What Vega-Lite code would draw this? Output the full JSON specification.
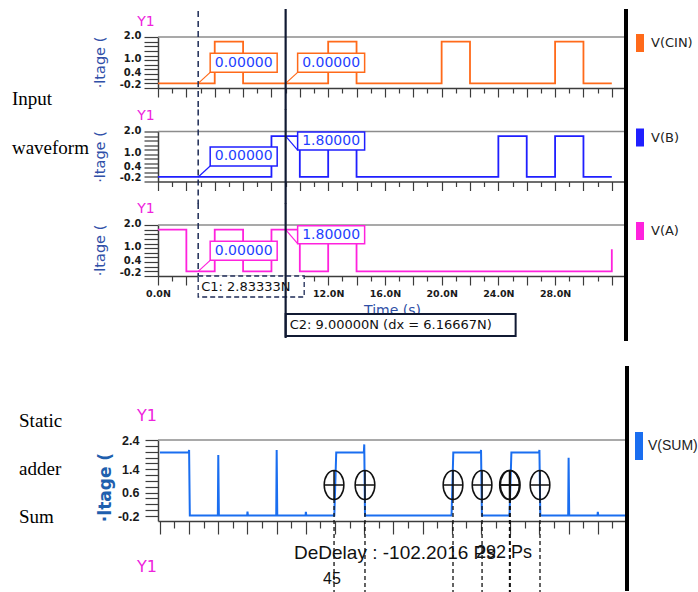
{
  "$schema": "https://vega.github.io/schema/vega-lite/v6.json",
  "background": "white",
  "padding": {"left": 11, "top": 7, "right": 0, "bottom": 0},
  "autosize": {"type": "pad"},
  "config": {
    "view": {"stroke": null},
    "font": "DejaVu Sans",
    "axis": {"domainColor": "#3c3c3c", "domainWidth": 1.5, "tickColor": "#3c3c3c", "tickWidth": 1.2, "grid": false, "labelColor": "#1a1a1a", "labelOverlap": false, "tickCount": 100}
  },
  "datasets": {
    "cin": [{"t":0,"v":0},{"t":4,"v":1.8},{"t":6,"v":0},{"t":12,"v":1.8},{"t":14,"v":0},{"t":20,"v":1.8},{"t":22,"v":0},{"t":28,"v":1.8},{"t":30,"v":0},{"t":32,"v":0}],
    "b": [{"t":0,"v":0},{"t":8,"v":1.8},{"t":10,"v":0},{"t":12,"v":1.8},{"t":14,"v":0},{"t":24,"v":1.8},{"t":26,"v":0},{"t":28,"v":1.8},{"t":30,"v":0},{"t":32,"v":0}],
    "a": [{"t":0,"v":1.8},{"t":2,"v":0},{"t":4,"v":1.8},{"t":6,"v":0},{"t":8,"v":1.8},{"t":10,"v":0},{"t":12,"v":1.8},{"t":14,"v":0},{"t":32,"v":0.95}],
    "sum": [{"t":0,"v":1.97},{"t":1.97,"v":1.97},{"t":2.0,"v":2.06},{"t":2.05,"v":-0.18},{"t":3.97,"v":-0.18},{"t":4.0,"v":1.89},{"t":4.04,"v":-0.18},{"t":5.98,"v":-0.18},{"t":6.0,"v":-0.05},{"t":6.03,"v":-0.18},{"t":7.97,"v":-0.18},{"t":8.0,"v":2.06},{"t":8.04,"v":-0.18},{"t":9.98,"v":-0.18},{"t":10.0,"v":-0.06},{"t":10.03,"v":-0.18},{"t":11.95,"v":-0.18},{"t":12.08,"v":1.97},{"t":13.97,"v":1.97},{"t":14.0,"v":2.25},{"t":14.05,"v":-0.18},{"t":19.98,"v":-0.18},{"t":20.1,"v":1.97},{"t":21.97,"v":1.97},{"t":22.0,"v":2.06},{"t":22.06,"v":-0.18},{"t":23.95,"v":-0.18},{"t":24.08,"v":1.97},{"t":25.97,"v":1.97},{"t":26.0,"v":2.06},{"t":26.06,"v":-0.18},{"t":27.97,"v":-0.18},{"t":28.0,"v":1.79},{"t":28.04,"v":-0.18},{"t":29.98,"v":-0.18},{"t":30.0,"v":-0.06},{"t":30.03,"v":-0.18},{"t":32,"v":-0.18}],
    "readouts": [
      {"panel":"CIN","t":2.83333,"v":0,"label":"0.00000"},
      {"panel":"CIN","t":9.0,"v":0,"label":"0.00000"},
      {"panel":"B","t":2.83333,"v":0,"label":"0.00000"},
      {"panel":"B","t":9.0,"v":1.8,"label":"1.80000"},
      {"panel":"A","t":2.83333,"v":0,"label":"0.00000"},
      {"panel":"A","t":9.0,"v":1.8,"label":"1.80000"}
    ],
    "markers": [{"t":11.93,"v":0.86},{"t":14.05,"v":0.86},{"t":20.08,"v":0.86},{"t":22.07,"v":0.86},{"t":23.95,"v":0.86},{"t":24.0,"v":0.86},{"t":26.04,"v":0.86}]
  },
  "spacing": 43.5,
  "bounds": "flush",
  "resolve": {"scale": {"x": "independent", "y": "independent", "color": "independent"}, "legend": {"color": "independent"}, "axis": {"x": "independent", "y": "independent"}},
  "vconcat": [
    {
      "width": 468, "height": 51,
      "layer": [
        {"data": {"name": "cin"}, "mark": {"type": "line", "interpolate": "step-after", "strokeWidth": 1.8},
         "encoding": {
           "x": {"field": "t", "type": "quantitative", "scale": {"domain": [0, 33], "nice": false, "zero": false},
                 "axis": {"values": [0,1,2,3,4,5,6,7,8,9,10,11,12,13,14,15,16,17,18,19,20,21,22,23,24,25,26,27,28,29,30,31,32], "tickCount": 100, "labels": false, "title": null, "tickSize": {"condition": {"test": "datum.value % 2 === 0", "value": 9}, "value": 5}}},
           "y": {"field": "v", "type": "quantitative", "scale": {"domain": [-0.2, 2.0], "nice": false, "zero": false},
                 "axis": {"values": [-0.2,0,0.2,0.4,0.6,0.8,1,1.2,1.4,1.6,1.8,2], "tickCount": 100, "labelOverlap": false, "labelExpr": "datum.value < -0.1 ? '-0.2' : (datum.value > 1.95 ? '2.0' : (datum.value > 0.95 && datum.value < 1.05 ? '1.0' : (datum.value > 0.35 && datum.value < 0.45 ? '0.4' : '')))", "labelFont": "DejaVu Sans", "labelFontWeight": "bold", "labelFontSize": 10, "labelPadding": 3, "labelOffset": {"condition": {"test": "datum.value < -0.1", "value": -4}, "value": -1.5}, "tickSize": 14, "title": "·ltage (", "titleFont": "DejaVu Sans", "titleFontWeight": "normal", "titleFontSize": 14.5, "titleColor": "#3050a8", "titleX": -58, "titleY": 25, "titleAngle": -90, "titleAlign": "center", "titleBaseline": "middle"}},
           "color": {"datum": "V(CIN)", "scale": {"range": ["#ff6a1a"]}, "legend": {"title": null, "orient": "none", "legendX": 469, "legendY": -7, "symbolType": "M0,-1V1", "symbolSize": 324, "symbolStrokeWidth": 8, "labelFont": "DejaVu Sans", "labelFontSize": 13, "labelColor": "#222222", "labelOffset": -2, "padding": 0}}
         }},
        {"data": {"values": [{}]}, "mark": {"type": "rule", "color": "#8c8c8c", "strokeWidth": 1.5}, "encoding": {"y": {"datum": 2.0, "type": "quantitative"}}},
        {"data": {"name": "readouts"}, "transform": [{"filter": "datum.panel === 'CIN'"}],
         "layer": [
           {"mark": {"type": "rule", "color": "#ff6a1a", "strokeWidth": 1.2, "x2Offset": 12, "y2Offset": -11}, "encoding": {"x": {"field": "t", "type": "quantitative"}, "y": {"field": "v", "type": "quantitative"}, "x2": {"field": "t"}, "y2": {"field": "v"}}},
           {"mark": {"type": "rect", "fill": "white", "stroke": "#ff6a1a", "strokeWidth": 1.5, "xOffset": 12, "x2Offset": 79, "yOffset": -11, "y2Offset": -30}, "encoding": {"x": {"field": "t", "type": "quantitative"}, "y": {"field": "v", "type": "quantitative"}, "x2": {"field": "t"}, "y2": {"field": "v"}}},
           {"mark": {"type": "text", "color": "#1f3fff", "font": "DejaVu Sans", "fontSize": 14, "dx": 45.5, "dy": -20.5, "align": "center", "baseline": "middle"}, "encoding": {"x": {"field": "t", "type": "quantitative"}, "y": {"field": "v", "type": "quantitative"}, "text": {"field": "label"}}}
         ]},
        {"data": {"values": [{}]}, "mark": {"type": "rule", "color": "#1c2a55", "strokeWidth": 1.5, "strokeDash": [6, 4], "yOffset": -26, "y2Offset": 22}, "encoding": {"x": {"datum": 2.83333, "type": "quantitative"}, "y": {"datum": 2.0, "type": "quantitative"}, "y2": {"datum": -0.2}}},
        {"data": {"values": [{}]}, "mark": {"type": "rule", "color": "#111a33", "strokeWidth": 2.2, "yOffset": -28, "y2Offset": 22}, "encoding": {"x": {"datum": 9.0, "type": "quantitative"}, "y": {"datum": 2.0, "type": "quantitative"}, "y2": {"datum": -0.2}}},
        {"data": {"values": [{}]}, "mark": {"type": "rule", "color": "#000000", "strokeWidth": 4, "yOffset": -28, "y2Offset": 22}, "encoding": {"x": {"datum": 33.0, "type": "quantitative"}, "y": {"datum": 2.0, "type": "quantitative"}, "y2": {"datum": -0.2}}},
        {"data": {"values": [{}]}, "mark": {"type": "text", "text": "Y1", "color": "#ee22dd", "font": "DejaVu Sans", "fontSize": 14, "dx": -12, "dy": -15, "align": "center", "baseline": "middle"}, "encoding": {"x": {"datum": 0, "type": "quantitative"}, "y": {"datum": 2.0, "type": "quantitative"}}}
      ]
    },
    {
      "width": 468, "height": 50,
      "layer": [
        {"data": {"name": "b"}, "mark": {"type": "line", "interpolate": "step-after", "strokeWidth": 1.8},
         "encoding": {
           "x": {"field": "t", "type": "quantitative", "scale": {"domain": [0, 33], "nice": false, "zero": false},
                 "axis": {"values": [0,1,2,3,4,5,6,7,8,9,10,11,12,13,14,15,16,17,18,19,20,21,22,23,24,25,26,27,28,29,30,31,32], "tickCount": 100, "labels": false, "title": null, "tickSize": {"condition": {"test": "datum.value % 2 === 0", "value": 9}, "value": 5}}},
           "y": {"field": "v", "type": "quantitative", "scale": {"domain": [-0.2, 2.0], "nice": false, "zero": false},
                 "axis": {"values": [-0.2,0,0.2,0.4,0.6,0.8,1,1.2,1.4,1.6,1.8,2], "tickCount": 100, "labelOverlap": false, "labelExpr": "datum.value < -0.1 ? '-0.2' : (datum.value > 1.95 ? '2.0' : (datum.value > 0.95 && datum.value < 1.05 ? '1.0' : (datum.value > 0.35 && datum.value < 0.45 ? '0.4' : '')))", "labelFont": "DejaVu Sans", "labelFontWeight": "bold", "labelFontSize": 10, "labelPadding": 3, "labelOffset": {"condition": {"test": "datum.value < -0.1", "value": -4}, "value": -1.5}, "tickSize": 14, "title": "·ltage (", "titleFont": "DejaVu Sans", "titleFontWeight": "normal", "titleFontSize": 14.5, "titleColor": "#3050a8", "titleX": -58, "titleY": 25, "titleAngle": -90, "titleAlign": "center", "titleBaseline": "middle"}},
           "color": {"datum": "V(B)", "scale": {"range": ["#1f1fff"]}, "legend": {"title": null, "orient": "none", "legendX": 469, "legendY": -7, "symbolType": "M0,-1V1", "symbolSize": 324, "symbolStrokeWidth": 8, "labelFont": "DejaVu Sans", "labelFontSize": 13, "labelColor": "#222222", "labelOffset": -2, "padding": 0}}
         }},
        {"data": {"values": [{}]}, "mark": {"type": "rule", "color": "#8c8c8c", "strokeWidth": 1.5}, "encoding": {"y": {"datum": 2.0, "type": "quantitative"}}},
        {"data": {"name": "readouts"}, "transform": [{"filter": "datum.panel === 'B' && datum.v < 1"}],
         "layer": [
           {"mark": {"type": "rule", "color": "#1f1fff", "strokeWidth": 1.2, "x2Offset": 12, "y2Offset": -11}, "encoding": {"x": {"field": "t", "type": "quantitative"}, "y": {"field": "v", "type": "quantitative"}, "x2": {"field": "t"}, "y2": {"field": "v"}}},
           {"mark": {"type": "rect", "fill": "white", "stroke": "#1f1fff", "strokeWidth": 1.5, "xOffset": 12, "x2Offset": 79, "yOffset": -11, "y2Offset": -30}, "encoding": {"x": {"field": "t", "type": "quantitative"}, "y": {"field": "v", "type": "quantitative"}, "x2": {"field": "t"}, "y2": {"field": "v"}}},
           {"mark": {"type": "text", "color": "#1f3fff", "font": "DejaVu Sans", "fontSize": 14, "dx": 45.5, "dy": -20.5, "align": "center", "baseline": "middle"}, "encoding": {"x": {"field": "t", "type": "quantitative"}, "y": {"field": "v", "type": "quantitative"}, "text": {"field": "label"}}}
         ]},
        {"data": {"name": "readouts"}, "transform": [{"filter": "datum.panel === 'B' && datum.v > 1"}],
         "layer": [
           {"mark": {"type": "rule", "color": "#1f1fff", "strokeWidth": 1.2, "x2Offset": 12, "y2Offset": 14}, "encoding": {"x": {"field": "t", "type": "quantitative"}, "y": {"field": "v", "type": "quantitative"}, "x2": {"field": "t"}, "y2": {"field": "v"}}},
           {"mark": {"type": "rect", "fill": "white", "stroke": "#1f1fff", "strokeWidth": 1.5, "xOffset": 12, "x2Offset": 79, "yOffset": 14, "y2Offset": -4}, "encoding": {"x": {"field": "t", "type": "quantitative"}, "y": {"field": "v", "type": "quantitative"}, "x2": {"field": "t"}, "y2": {"field": "v"}}},
           {"mark": {"type": "text", "color": "#1f3fff", "font": "DejaVu Sans", "fontSize": 14, "dx": 45.5, "dy": 5, "align": "center", "baseline": "middle"}, "encoding": {"x": {"field": "t", "type": "quantitative"}, "y": {"field": "v", "type": "quantitative"}, "text": {"field": "label"}}}
         ]},
        {"data": {"values": [{}]}, "mark": {"type": "rule", "color": "#1c2a55", "strokeWidth": 1.5, "strokeDash": [6, 4], "yOffset": -22, "y2Offset": 22}, "encoding": {"x": {"datum": 2.83333, "type": "quantitative"}, "y": {"datum": 2.0, "type": "quantitative"}, "y2": {"datum": -0.2}}},
        {"data": {"values": [{}]}, "mark": {"type": "rule", "color": "#111a33", "strokeWidth": 2.2, "yOffset": -22, "y2Offset": 22}, "encoding": {"x": {"datum": 9.0, "type": "quantitative"}, "y": {"datum": 2.0, "type": "quantitative"}, "y2": {"datum": -0.2}}},
        {"data": {"values": [{}]}, "mark": {"type": "rule", "color": "#000000", "strokeWidth": 4, "yOffset": -22, "y2Offset": 22}, "encoding": {"x": {"datum": 33.0, "type": "quantitative"}, "y": {"datum": 2.0, "type": "quantitative"}, "y2": {"datum": -0.2}}},
        {"data": {"values": [{}]}, "mark": {"type": "text", "text": "Y1", "color": "#ee22dd", "font": "DejaVu Sans", "fontSize": 14, "dx": -12, "dy": -16, "align": "center", "baseline": "middle"}, "encoding": {"x": {"datum": 0, "type": "quantitative"}, "y": {"datum": 2.0, "type": "quantitative"}}},
        {"data": {"values": [{}]}, "mark": {"type": "text", "text": ["Input", "waveform"], "lineHeight": 49, "color": "#000000", "font": "Liberation Serif", "fontSize": 19, "align": "left", "baseline": "middle"}, "encoding": {"x": {"datum": -10.3, "type": "quantitative"}, "y": {"datum": 3.45, "type": "quantitative"}}}
      ]
    },
    {
      "width": 468, "height": 51,
      "layer": [
        {"data": {"name": "a"}, "mark": {"type": "line", "interpolate": "step-after", "strokeWidth": 1.8},
         "encoding": {
           "x": {"field": "t", "type": "quantitative", "scale": {"domain": [0, 33], "nice": false, "zero": false},
                 "axis": {"values": [0,1,2,3,4,5,6,7,8,9,10,11,12,13,14,15,16,17,18,19,20,21,22,23,24,25,26,27,28,29,30,31,32], "tickCount": 100, "labelOverlap": false, "labelExpr": "indexof([0,12,16,20,24,28], datum.value) >= 0 ? format(datum.value, '.1f') + 'N' : ''", "labelFont": "DejaVu Sans", "labelFontWeight": "bold", "labelFontSize": 9.5, "labelFlush": false, "labelPadding": 3, "tickSize": {"condition": {"test": "datum.value % 2 === 0", "value": 9}, "value": 5}, "title": "Time (s)", "titleFont": "DejaVu Sans", "titleFontWeight": "normal", "titleFontSize": 14, "titleColor": "#2f4fa6", "titleY": 34, "titleBaseline": "middle"}},
           "y": {"field": "v", "type": "quantitative", "scale": {"domain": [-0.2, 2.0], "nice": false, "zero": false},
                 "axis": {"values": [-0.2,0,0.2,0.4,0.6,0.8,1,1.2,1.4,1.6,1.8,2], "tickCount": 100, "labelOverlap": false, "labelExpr": "datum.value < -0.1 ? '-0.2' : (datum.value > 1.95 ? '2.0' : (datum.value > 0.95 && datum.value < 1.05 ? '1.0' : (datum.value > 0.35 && datum.value < 0.45 ? '0.4' : '')))", "labelFont": "DejaVu Sans", "labelFontWeight": "bold", "labelFontSize": 10, "labelPadding": 3, "labelOffset": {"condition": {"test": "datum.value < -0.1", "value": -4}, "value": -1.5}, "tickSize": 14, "title": "·ltage (", "titleFont": "DejaVu Sans", "titleFontWeight": "normal", "titleFontSize": 14.5, "titleColor": "#3050a8", "titleX": -58, "titleY": 25, "titleAngle": -90, "titleAlign": "center", "titleBaseline": "middle"}},
           "color": {"datum": "V(A)", "scale": {"range": ["#ff22dd"]}, "legend": {"title": null, "orient": "none", "legendX": 469, "legendY": -7, "symbolType": "M0,-1V1", "symbolSize": 324, "symbolStrokeWidth": 8, "labelFont": "DejaVu Sans", "labelFontSize": 13, "labelColor": "#222222", "labelOffset": -2, "padding": 0}}
         }},
        {"data": {"values": [{}]}, "mark": {"type": "rule", "color": "#8c8c8c", "strokeWidth": 1.5}, "encoding": {"y": {"datum": 2.0, "type": "quantitative"}}},
        {"data": {"name": "readouts"}, "transform": [{"filter": "datum.panel === 'A' && datum.v < 1"}],
         "layer": [
           {"mark": {"type": "rule", "color": "#ff22dd", "strokeWidth": 1.2, "x2Offset": 12, "y2Offset": -11}, "encoding": {"x": {"field": "t", "type": "quantitative"}, "y": {"field": "v", "type": "quantitative"}, "x2": {"field": "t"}, "y2": {"field": "v"}}},
           {"mark": {"type": "rect", "fill": "white", "stroke": "#ff22dd", "strokeWidth": 1.5, "xOffset": 12, "x2Offset": 79, "yOffset": -11, "y2Offset": -30}, "encoding": {"x": {"field": "t", "type": "quantitative"}, "y": {"field": "v", "type": "quantitative"}, "x2": {"field": "t"}, "y2": {"field": "v"}}},
           {"mark": {"type": "text", "color": "#1f3fff", "font": "DejaVu Sans", "fontSize": 14, "dx": 45.5, "dy": -20.5, "align": "center", "baseline": "middle"}, "encoding": {"x": {"field": "t", "type": "quantitative"}, "y": {"field": "v", "type": "quantitative"}, "text": {"field": "label"}}}
         ]},
        {"data": {"name": "readouts"}, "transform": [{"filter": "datum.panel === 'A' && datum.v > 1"}],
         "layer": [
           {"mark": {"type": "rule", "color": "#ff22dd", "strokeWidth": 1.2, "x2Offset": 12, "y2Offset": 14}, "encoding": {"x": {"field": "t", "type": "quantitative"}, "y": {"field": "v", "type": "quantitative"}, "x2": {"field": "t"}, "y2": {"field": "v"}}},
           {"mark": {"type": "rect", "fill": "white", "stroke": "#ff22dd", "strokeWidth": 1.5, "xOffset": 12, "x2Offset": 79, "yOffset": 14, "y2Offset": -4}, "encoding": {"x": {"field": "t", "type": "quantitative"}, "y": {"field": "v", "type": "quantitative"}, "x2": {"field": "t"}, "y2": {"field": "v"}}},
           {"mark": {"type": "text", "color": "#1f3fff", "font": "DejaVu Sans", "fontSize": 14, "dx": 45.5, "dy": 5, "align": "center", "baseline": "middle"}, "encoding": {"x": {"field": "t", "type": "quantitative"}, "y": {"field": "v", "type": "quantitative"}, "text": {"field": "label"}}}
         ]},
        {"data": {"values": [{}]}, "mark": {"type": "rect", "fill": "white", "stroke": "#1c2a55", "strokeWidth": 1.3, "strokeDash": [5, 3], "x2Offset": 106, "y2Offset": 21}, "encoding": {"x": {"datum": 2.83333, "type": "quantitative"}, "x2": {"datum": 2.83333}, "y": {"datum": -0.2, "type": "quantitative"}, "y2": {"datum": -0.2}}},
        {"data": {"values": [{}]}, "mark": {"type": "text", "text": "C1: 2.83333N", "color": "#111111", "font": "DejaVu Sans", "fontSize": 13, "dx": 3, "dy": 11, "align": "left", "baseline": "middle"}, "encoding": {"x": {"datum": 2.83333, "type": "quantitative"}, "y": {"datum": -0.2, "type": "quantitative"}}},
        {"data": {"values": [{}]}, "mark": {"type": "rect", "fill": "white", "stroke": "#111a33", "strokeWidth": 2, "yOffset": 38, "x2Offset": 230, "y2Offset": 60}, "encoding": {"x": {"datum": 9.0, "type": "quantitative"}, "x2": {"datum": 9.0}, "y": {"datum": -0.2, "type": "quantitative"}, "y2": {"datum": -0.2}}},
        {"data": {"values": [{}]}, "mark": {"type": "text", "text": "C2: 9.00000N (dx = 6.16667N)", "color": "#111111", "font": "DejaVu Sans", "fontSize": 13, "dx": 4, "dy": 49, "align": "left", "baseline": "middle"}, "encoding": {"x": {"datum": 9.0, "type": "quantitative"}, "y": {"datum": -0.2, "type": "quantitative"}}},
        {"data": {"values": [{}]}, "mark": {"type": "rule", "color": "#1c2a55", "strokeWidth": 1.5, "strokeDash": [6, 4], "yOffset": -22, "y2Offset": 0}, "encoding": {"x": {"datum": 2.83333, "type": "quantitative"}, "y": {"datum": 2.0, "type": "quantitative"}, "y2": {"datum": -0.2}}},
        {"data": {"values": [{}]}, "mark": {"type": "rule", "color": "#111a33", "strokeWidth": 2.2, "yOffset": -22, "y2Offset": 62}, "encoding": {"x": {"datum": 9.0, "type": "quantitative"}, "y": {"datum": 2.0, "type": "quantitative"}, "y2": {"datum": -0.2}}},
        {"data": {"values": [{}]}, "mark": {"type": "rule", "color": "#000000", "strokeWidth": 4, "yOffset": -22, "y2Offset": 65}, "encoding": {"x": {"datum": 33.0, "type": "quantitative"}, "y": {"datum": 2.0, "type": "quantitative"}, "y2": {"datum": -0.2}}},
        {"data": {"values": [{}]}, "mark": {"type": "text", "text": "Y1", "color": "#ee22dd", "font": "DejaVu Sans", "fontSize": 14, "dx": -12, "dy": -16, "align": "center", "baseline": "middle"}, "encoding": {"x": {"datum": 0, "type": "quantitative"}, "y": {"datum": 2.0, "type": "quantitative"}}}
      ]
    },
    {
      "width": 468, "height": 77,
      "data": {"values": []},
      "mark": "point",
      "encoding": {}
    },
    {
      "width": 469, "height": 81,
      "layer": [
        {"data": {"name": "sum"}, "mark": {"type": "line", "strokeWidth": 2},
         "encoding": {
           "x": {"field": "t", "type": "quantitative", "scale": {"domain": [-0.13, 32], "nice": false, "zero": false},
                 "axis": {"values": [0,1,2,3,4,5,6,7,8,9,10,11,12,13,14,15,16,17,18,19,20,21,22,23,24,25,26,27,28,29,30,31,32], "tickCount": 100, "labels": false, "title": null, "tickSize": {"condition": {"test": "datum.value % 2 === 0", "value": 13}, "value": 7}}},
           "y": {"field": "v", "type": "quantitative", "scale": {"domain": [-0.37, 2.4], "nice": false, "zero": false},
                 "axis": {"values": [-0.2,0,0.2,0.4,0.6,0.8,1,1.2,1.4,1.6,1.8,2,2.2,2.4], "tickCount": 100, "labelOverlap": false, "labelExpr": "datum.value < -0.1 ? '-0.2' : (datum.value > 2.35 ? '2.4' : (datum.value > 1.35 && datum.value < 1.45 ? '1.4' : (datum.value > 0.55 && datum.value < 0.65 ? '0.6' : '')))", "labelFont": "Liberation Sans", "labelFontWeight": "bold", "labelFontSize": 12.5, "labelPadding": 6, "tickSize": 13, "title": "·ltage (", "titleFont": "DejaVu Sans", "titleFontWeight": "bold", "titleFontSize": 17, "titleColor": "#1f5fae", "titleX": -53, "titleY": 47, "titleAngle": -90, "titleAlign": "center", "titleBaseline": "middle"}},
           "color": {"datum": "V(SUM)", "scale": {"range": ["#1a6ef0"]}, "legend": {"title": null, "orient": "none", "legendX": 463, "legendY": -12, "symbolType": "M0,-1V1", "symbolSize": 784, "symbolStrokeWidth": 8, "labelFont": "Liberation Sans", "labelFontSize": 14, "labelColor": "#222222", "labelOffset": -9, "padding": 0}}
         }},
        {"data": {"values": [{}]}, "mark": {"type": "rule", "color": "#8c8c8c", "strokeWidth": 1.5}, "encoding": {"y": {"datum": 2.4, "type": "quantitative"}}},
        {"data": {"name": "markers"}, "mark": {"type": "rule", "color": "#111111", "strokeWidth": 1.3, "strokeDash": [4, 3], "yOffset": 14}, "encoding": {"x": {"field": "t", "type": "quantitative"}, "y": {"field": "v", "type": "quantitative"}, "y2": {"datum": -2.8}}},
        {"data": {"name": "markers"}, "mark": {"type": "point", "shape": "M-0.68,0A0.68,1,0,1,1,0.68,0A0.68,1,0,1,1,-0.68,0M-0.68,0L0.68,0M0,-1L0,1", "size": 841, "filled": false, "stroke": "#111111", "strokeWidth": 1.5, "opacity": 1}, "encoding": {"x": {"field": "t", "type": "quantitative"}, "y": {"field": "v", "type": "quantitative"}}},
        {"data": {"values": [{}]}, "mark": {"type": "rule", "color": "#000000", "strokeWidth": 4, "yOffset": -74, "y2Offset": 70}, "encoding": {"x": {"datum": 32, "type": "quantitative"}, "y": {"datum": 2.4, "type": "quantitative"}, "y2": {"datum": -0.37}}},
        {"data": {"values": [{}]}, "mark": {"type": "text", "text": "Y1", "color": "#ee22dd", "font": "DejaVu Sans", "fontSize": 16, "dx": -11, "dy": -24, "align": "center", "baseline": "middle"}, "encoding": {"x": {"datum": -0.13, "type": "quantitative"}, "y": {"datum": 2.4, "type": "quantitative"}}},
        {"data": {"values": [{}]}, "mark": {"type": "text", "text": "Y1", "color": "#ee22dd", "font": "DejaVu Sans", "fontSize": 16, "dx": -11, "dy": 46, "align": "center", "baseline": "middle"}, "encoding": {"x": {"datum": -0.13, "type": "quantitative"}, "y": {"datum": -0.37, "type": "quantitative"}}},
        {"data": {"values": [{}]}, "mark": {"type": "text", "text": ["Static", "adder", "Sum"], "lineHeight": 48, "color": "#000000", "font": "Liberation Serif", "fontSize": 19, "align": "left", "baseline": "middle"}, "encoding": {"x": {"datum": -9.65, "type": "quantitative"}, "y": {"datum": 3.05, "type": "quantitative"}}},
        {"data": {"values": [{}]}, "mark": {"type": "text", "text": "292 Ps", "color": "#111111", "font": "Liberation Sans", "fontSize": 18, "align": "right", "baseline": "middle"}, "encoding": {"x": {"datum": 25.5, "type": "quantitative"}, "y": {"datum": -1.46, "type": "quantitative"}}},
        {"data": {"values": [{}]}, "mark": {"type": "text", "text": "DeDelay : -102.2016 Ps", "color": "#111111", "font": "Liberation Sans", "fontSize": 19, "align": "left", "baseline": "middle"}, "encoding": {"x": {"datum": 9.19, "type": "quantitative"}, "y": {"datum": -1.46, "type": "quantitative"}}},
        {"data": {"values": [{}]}, "mark": {"type": "text", "text": "45", "color": "#111111", "font": "Liberation Sans", "fontSize": 16, "align": "center", "baseline": "middle"}, "encoding": {"x": {"datum": 11.79, "type": "quantitative"}, "y": {"datum": -2.35, "type": "quantitative"}}}
      ]
    }
  ]
}
